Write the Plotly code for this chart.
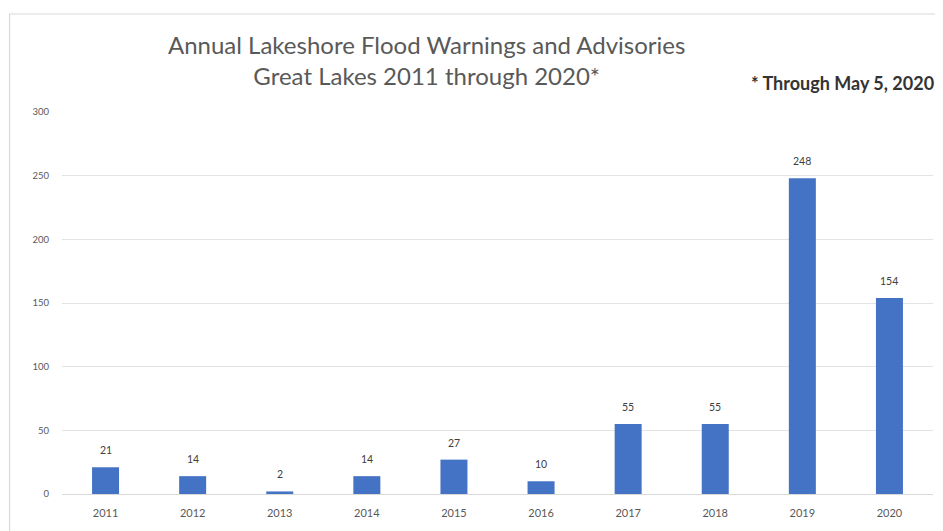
import plotly.graph_objects as go

years = ["2011", "2012", "2013", "2014", "2015", "2016", "2017", "2018", "2019", "2020"]
counts = [21, 14, 2, 14, 27, 10, 55, 55, 248, 154]
y_ticks = [0, 50, 100, 150, 200, 250, 300]

OFF = 8  # page body margin
W, H = 943 - OFF, 531 - OFF
L, R, T, B = 61.5 - OFF, 9.5, 112 - OFF, 37
pw, ph = W - L - R, H - T - B

def px(x):
    return (x - OFF - L) / pw

def py(y):
    return (H - B - (y - OFF)) / ph

fig = go.Figure(go.Bar(
    x=years, y=counts,
    marker=dict(color="#4472C4", line=dict(width=0)),
    cliponaxis=False,
))

# value labels placed at the category index of each bar
label_anns = [
    dict(x=i, y=c, text=str(c), xref="x", yref="y", showarrow=False,
         yanchor="bottom", yshift=9, font=dict(family="Lato", size=10.5, color="#404040"))
    for i, c in enumerate(counts)
]

fig.update_layout(
    width=W, height=H,
    margin=dict(l=L, r=R, t=T, b=B),
    paper_bgcolor="white", plot_bgcolor="white",
    bargap=0.69,
    showlegend=False,
    font=dict(family="Lato", color="#595959"),
    xaxis=dict(type="category", range=[-0.5, len(years) - 0.5], showgrid=False, showline=False, ticks="",
               tickfont=dict(size=11, color="#595959"), ticklabelstandoff=11, automargin=False),
    yaxis=dict(range=[0, 300], tickvals=y_ticks, showgrid=True, gridcolor="#e3e3e3", gridwidth=1,
               zeroline=True, zerolinecolor="#d9d9d9", zerolinewidth=1, automargin=False,
               tickfont=dict(size=9.5, color="#595959"), ticklabelstandoff=12),
    annotations=label_anns + [
        dict(text="Annual Lakeshore Flood Warnings and Advisories<br>Great Lakes 2011 through 2020*",
             xref="paper", yref="paper", x=px(426), y=py(60), xanchor="center", yanchor="middle",
             showarrow=False, font=dict(family="Lato", size=24, color="#595959")),
        dict(text="* Through May 5, 2020", xref="paper", yref="paper", x=px(843), y=py(83),
             xanchor="center", yanchor="middle", showarrow=False,
             font=dict(family="Lato", size=18, color="#333333", weight="bold")),
    ],
    shapes=[
        dict(type="rect", xref="paper", yref="paper", x0=px(9), x1=px(950), y0=py(545), y1=py(14),
             line=dict(color="#d9d9d9", width=1.2), layer="below"),
    ],
)

fig.write_html("out.html")
